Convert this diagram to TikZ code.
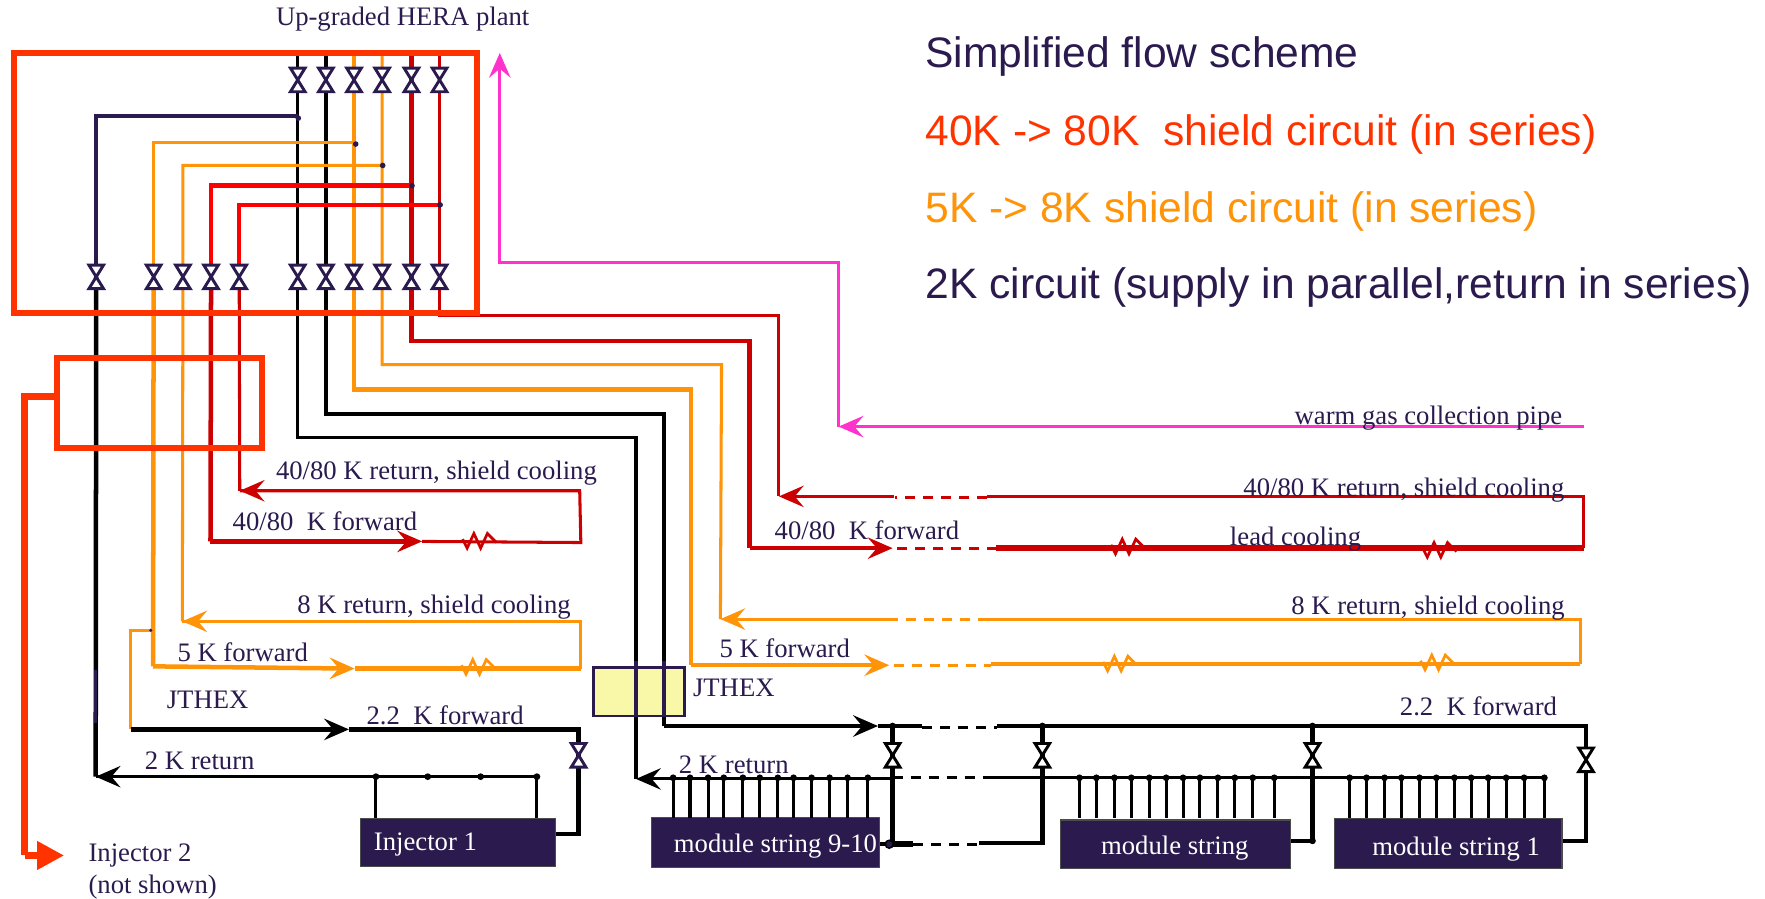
\documentclass[tikz,border=0pt]{standalone}
\usepackage{fontspec}
\setmainfont{Liberation Serif}
\newfontfamily\titlefont{Liberation Sans}
\usetikzlibrary{arrows.meta}
\definecolor{ink}{HTML}{2A1A4E}
\definecolor{plantred}{HTML}{FF3300}
\definecolor{shieldred}{HTML}{CC0000}
\definecolor{brightred}{HTML}{FF0000}
\definecolor{shieldorange}{HTML}{FF9408}
\definecolor{warmpink}{HTML}{FF33CC}
\definecolor{jtyellow}{HTML}{F8F8A8}
\tikzset{
  thinpipe/.style={line width=.027cm},
  thickpipe/.style={line width=.04cm},
  flow/.style={-{Stealth[length=.22cm,width=.19cm,inset=.08cm]}},
  dashpipe/.style={dash pattern=on .09cm off .07cm,line width=.028cm},
  redbox/.style={draw=plantred,line width=.055cm,anchor=north west,inner sep=0pt},
  strbox/.style={draw=black!70,line width=.01cm,fill=ink,anchor=north west,inner sep=0pt},
  lbl/.style={anchor=base west,inner sep=0pt,text=ink,font=\fontsize{6.74}{8}\selectfont},
  whitelbl/.style={lbl,text=white},
  headline/.style={anchor=base west,inner sep=0pt,font=\titlefont\fontsize{10.76}{13}\selectfont}
}
\begin{document}
\begin{tikzpicture}
  [x=.01cm,y=-.01cm,
  valve/.pic={\draw[fill=white,line width=.026cm] (-6.5,-10.5)--(6.5,-10.5)--(-6.5,10.5)--(6.5,10.5)--cycle;},
  heater/.pic={\draw[line width=.024cm] (-15,-2)--(-11,6)--(-5,-7)--(1,6)--(7,-7)--(15,1);}]
  \useasboundingbox (0,0) rectangle (1568,798);
  \foreach \p/\x in {a/264.5,b/289.5,c/314.5,d/339.5,e/365.5,f/390.5}{
    \coordinate (u\p) at (\x,47);
    \coordinate (t\p) at (\x,71);
    \coordinate (b\p) at (\x,246);
  }
  \foreach \p/\x in {g/85.5,h/136.5,i/162.5,j/187.5,k/212.5}
    \coordinate (b\p) at (\x,246);
  \path
  (85,690) coordinate (tipA)
  (162,552) coordinate (tipB)
  (213,436) coordinate (tipC)
  (565,692) coordinate (tipD)
  (640,550) coordinate (tipE)
  (692,441) coordinate (tipF)
  (514,671) coordinate (vInj)
  (793,671) coordinate (vA)
  (926,671) coordinate (vB)
  (1166,671) coordinate (vC)
  (1409,675) coordinate (vD);
  % lines leaving the plant to the far strings
  \draw[thinpipe] (ua)--(ba)|-(565,389)--(tipD);
  \draw[thickpipe] (ub)--(bb)|-(590,368)--(590,645);
  \draw[thickpipe,shieldorange] (uc)--(bc)|-(614,346)--(614,591);
  \draw[thinpipe,shieldorange] (ud)--(bd)|-(641,324)--(tipE);
  \draw[thickpipe,shieldred] (ue)--(be)|-(666,303)--(666,487);
  \draw[thinpipe,shieldred] (uf)--(bf)|-(692,280)--(tipF);
  % branches to the injector
  \draw[thickpipe,ink] (265,103)-|(bg);
  \draw[thickpipe] (bg)--(tipA);
  \draw[thinpipe,ink] (85,595)--(85,642);
  \draw[thinpipe,shieldorange] (316,127)-|(bh);
  \draw[thickpipe,shieldorange] (bh)--(136,592);
  \draw[thinpipe,shieldorange] (340,147)-|(bi)--(tipB);
  \draw[thickpipe,brightred] (366,165)-|(bj);
  \draw[thickpipe,shieldred] (bj)--(187,481);
  \draw[thickpipe,brightred] (391,182)-|(bk);
  \draw[thinpipe,shieldred] (bk)--(tipC);
  \foreach \p/\q in {265/105,316/128,340/147,366/165,391/182}
  \fill[ink] (\p,\q) circle (2.5);
  % injector loops
  \draw[thickpipe,shieldred,flow] (187,481)--(375,481);
  \draw[thinpipe,shieldred] (375,481)--(516,482)--(515,436)--(tipC);
  \draw[thinpipe,shieldred,flow] (515,436)--(tipC);
  \draw[thickpipe,shieldorange,flow] (136,592)--(315,594);
  \draw[thickpipe,shieldorange] (315,594)--(516,594);
  \draw[thinpipe,shieldorange] (516,594)--(516,552)--(tipB);
  \draw[thinpipe,shieldorange,flow] (516,552)--(tipB);
  \draw[thinpipe,shieldorange] (134,560)-|(116,648);
  \fill[ink] (134,560) circle (1.5);
  \draw[line width=.05cm,flow] (116,648)--(310,648);
  \draw[thickpipe] (310,648)--(514,648)--(vInj)--(514,741)--(493,741);
  \draw[thinpipe] (478,690)--(tipA);
  \draw[thinpipe,flow] (200,690)--(tipA);
  % far shield loops
  \draw[thickpipe,shieldred,flow] (666,487)--(793,487);
  \draw[dashpipe,shieldred] (797,487)--(885,487);
  \draw[line width=.05cm,shieldred] (885,487)--(1407,487);
  \draw[thinpipe,shieldred] (1407,487)--(1407,441)--(877,441);
  \draw[dashpipe,shieldred] (877,442)--(795,442);
  \draw[thinpipe,shieldred,flow] (794,441)--(tipF);
  \draw[thickpipe,shieldorange,flow] (614,591)--(790,591);
  \draw[dashpipe,shieldorange] (794,591)--(880,591);
  \draw[thickpipe,shieldorange] (880,590)--(1404,590);
  \draw[thinpipe,shieldorange] (1404,590)--(1404,550)--(878,550);
  \draw[dashpipe,shieldorange] (878,550)--(790,550);
  \draw[thinpipe,shieldorange,flow] (790,550)--(tipE);
  % warm gas pipe
  \draw[thinpipe,warmpink,flow] (1407,379)--(745,379);
  \draw[thinpipe,warmpink,flow] (745,379)--(745,233)--(444,233)--(444,47);
  % cold lines to the strings
  \draw[thickpipe,flow] (590,645)--(780,645);
  \draw[thickpipe] (780,645)--(819,645);
  \draw[dashpipe] (819,646)--(886,646);
  \draw[thickpipe] (886,645)--(1409,645)--(vD)--(1409,747)--(1387,747);
  \draw[thinpipe,flow] (700,692)--(tipD);
  \draw[thinpipe] (700,692)--(793,692);
  \draw[dashpipe] (793,691)--(880,691);
  \draw[thinpipe] (880,691)--(1372,691);
  \draw[thickpipe] (vA|-645,645)--(793,750)--(781,750);
  \draw[line width=.05cm] (793,750)--(811,750);
  \draw[dashpipe] (811,750)--(870,750);
  \draw[thickpipe] (870,749)--(926,749)--(926,645);
  \draw[thickpipe] (1166,645)--(1166,747)--(1146,747);
  % boxes
  \node[redbox,minimum width=4.11cm,minimum height=2.31cm] (plant) at (10,44) {};
  \node[redbox,minimum width=1.82cm,minimum height=.8cm] (exbox) at (48,315) {};
  \draw[line width=.06cm,plantred] (exbox.west|-0,352)--(22,352)--(22,760);
  \draw[line width=.06cm,plantred,-{Stealth[length=.24cm,width=.24cm,inset=0pt]}] (22,760)--(57,760);
  \node[strbox,minimum width=1.73cm,minimum height=.42cm] (inj) at (320,727) {};
  \node[strbox,minimum width=2.03cm,minimum height=.44cm] (strA) at (578,726) {};
  \node[strbox,minimum width=2.04cm,minimum height=.43cm] (strB) at (942,728) {};
  \node[strbox,minimum width=2.02cm,minimum height=.44cm] (strC) at (1185,727) {};
  \node[draw=ink,line width=.024cm,fill=jtyellow,anchor=north west,inner sep=0pt,minimum width=.81cm,minimum height=.43cm] (jt) at (526,592) {};
  \draw[thickpipe,ink] (565,587)--(565,637) (590,587)--(590,637);
  % valves and heaters
  \foreach \p in {a,b,c,d,e,f}
  \path (t\p) pic[ink]{valve} (b\p) pic[ink]{valve};
  \foreach \p in {g,h,i,j,k}
  \path (b\p) pic[ink]{valve};
  \path (vInj) pic[ink]{valve};
  \foreach \p in {vA,vB,vC,vD}
  \path (\p) pic[black]{valve};
  \foreach \x/\y in {426/481,1002/486,1279/489}
  \path (\x,\y) pic[shieldred]{heater};
  \foreach \x/\y in {425/593,995/590,1277/589}
  \path (\x,\y) pic[shieldorange]{heater};
  % string taps
  \foreach \x in {334,477}
  \draw[thinpipe] (\x,690)--(\x,727);
  \foreach \x in {334,380,427,477}
  \fill (\x,690) circle (3);
  \foreach \x in {598,613,629,643,660,675,691,705,721,737,753,771,
    959,974,990,1005,1021,1036,1051,1066,1082,1097,1113,1132,
    1199,1214,1230,1245,1261,1276,1292,1307,1322,1338,1354,1372}{
    \draw[thinpipe] (\x,691)--(\x,727);
    \fill (\x,691) circle (3);
  }
  \foreach \p/\q in {793/645,1166/645,1166/747,926/645}
  \fill (\p,\q) circle (3);
  \fill[ink,draw=black] (790,750) circle (3.5);
  % titles
  \node[headline,text=ink] (tTitle) at (821.5,60) {Simplified flow scheme};
  \node[headline,text=plantred] (tRed) at (821.5,129) {40K -> 80K\ \ shield circuit (in series)};
  \node[headline,text=shieldorange] (tOrange) at (821.5,197.5) {5K -> 8K shield circuit (in series)};
  \node[headline,text=ink] (tInk) at (821.5,265) {2K circuit (supply in parallel,return in series)};
  % labels
  \foreach \n/\x/\y/\t in {a/244.5/23/Up-graded HERA plant,
    b/244.5/426/{40/80 K return, shield cooling},
    c/206/471/{40/80\ \ K forward},
    d/263.5/545/{8 K return, shield cooling},
    e/157/588/5 K forward,
    f/147.5/629/JTHEX,
    g/325/644/{2.2\ \ K forward},
    h/128/684/2 K return,
    i/78/765.5/Injector 2,
    j/78/794/(not shown),
    k/1149.5/377/warm gas collection pipe,
    l/1104/441/{40/80 K return, shield cooling},
    m/687.5/479/{40/80\ \ K forward},
    n/1092/485/lead cooling,
    o/1146.5/546/{8 K return, shield cooling},
    p/638.5/584/5 K forward,
    q/615/619/JTHEX,
    r/1243/636/{2.2\ \ K forward},
    s/602.5/687/2 K return}
  \node[lbl] (l\n) at (\x,\y) {\t};
  \node[whitelbl] (tInj) at (331.5,756) {Injector 1};
  \node[whitelbl] (tStrA) at (598,757) {module string 9-10};
  \node[whitelbl] (tStrB) at (977.5,759.5) {module string};
  \node[whitelbl] (tStrC) at (1218.5,760) {module string 1};
\end{tikzpicture}
\end{document}
